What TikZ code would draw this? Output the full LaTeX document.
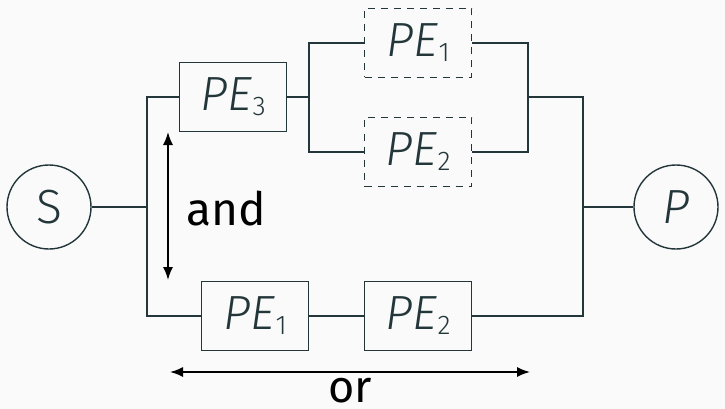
\documentclass[tikz,border=0pt]{standalone}
\usepackage{fontspec}
\setmainfont{Fira Sans}[Numbers=Lining]
\newfontfamily\pefont{Fira Sans Light}[Numbers=Lining]
\usetikzlibrary{arrows.meta}
\definecolor{mteal}{HTML}{23373B}
\definecolor{mbg}{HTML}{FAFAFA}
\newcommand{\PEsub}[1]{{\pefont\itshape PE}\kern0.5pt\raisebox{-5pt}{\pefont\fontsize{27}{30}\selectfont #1}}
\begin{document}
\begin{tikzpicture}[x=1pt,y=-1pt,
  every node/.style={font=\fontsize{48}{56}\selectfont},
  pebox/.style={draw=mteal,line width=1.4pt,minimum width=107pt,minimum height=69pt,inner sep=0pt,text=mteal},
  dbox/.style={pebox,dash pattern=on 7pt off 6pt},
  endpt/.style={draw=mteal,line width=1.4pt,circle,minimum size=84pt,inner sep=0pt,text=mteal},
  wire/.style={draw=mteal,line width=1.4pt},
  arr/.style={draw=black,line width=1.6pt,{Latex[length=13pt,width=10pt]}-{Latex[length=13pt,width=10pt]}}]
\fill[mbg] (0,0) rectangle (725,409);
\useasboundingbox (0,0) rectangle (725,409);
\node[endpt,font=\pefont\fontsize{48}{56}\selectfont] (S) at (49,207) {S};
\node[endpt] (P) at (676,207) {\pefont\itshape P};
\node[pebox] (pe3) at (233,97) {\PEsub{3}};
\node[dbox] (pa) at (418,43) {\PEsub{1}};
\node[dbox] (pb) at (418,152) {\PEsub{2}};
\node[pebox] (q1) at (255,316) {\PEsub{1}};
\node[pebox] (q2) at (418,316) {\PEsub{2}};
\coordinate (lb) at (147,316);
\coordinate (m) at (309,97);
\coordinate (r) at (528,97);
\coordinate (rb) at (583,316);
\draw[wire] (pe3.west) -| (lb) -- (q1.west);
\draw[wire] (S) -- (S -| lb);
\draw[wire] (pe3.east) -- (m);
\draw[wire] (pa.west) -| (m) |- (pb.west);
\draw[wire] (pa.east) -| (r) |- (pb.east);
\draw[wire] (r) -| (rb) -- (q2.east);
\draw[wire] (q1.east) -- (q2.west);
\draw[wire] (P) -- (P -| rb);
\coordinate (a1) at (168,132);
\coordinate (a2) at (168,280);
\draw[arr] (a1) -- (a2);
\node[anchor=base west,inner sep=0pt,text=black,font=\fontsize{46}{52}\selectfont] (and) at (186,225) {and};
\coordinate (o1) at (170,372);
\coordinate (o2) at (530,372);
\draw[arr] (o1) -- (o2);
\node[anchor=base,inner sep=0pt,text=black,font=\fontsize{45}{52}\selectfont] (or) at (350,402) {or};
\end{tikzpicture}
\end{document}
